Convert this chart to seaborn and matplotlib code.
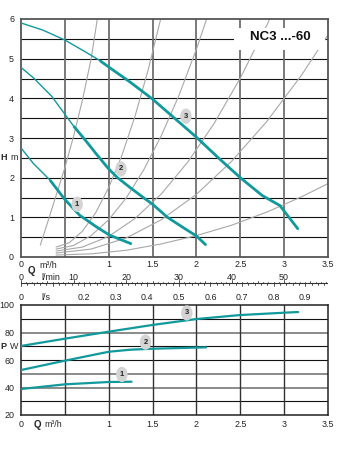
import numpy as np
import pandas as pd
import seaborn as sns
import matplotlib.pyplot as plt

sns.set_style("white")
plt.rcParams['font.family'] = ['Liberation Sans', 'DejaVu Sans']

# Pump head H (m) against flow Q (m3/h) for speed settings 1-3
q_h1 = [0, 0.14, 0.33, 0.5, 0.67, 0.86, 1.01, 1.26]
h_1 = [2.75, 2.36, 1.94, 1.45, 1.05, 0.76, 0.55, 0.33]
q_h2 = [0, 0.15, 0.35, 0.5, 0.6, 0.75, 0.85, 1.0, 1.1, 1.25, 1.4, 1.5, 1.67, 1.85, 2.0, 2.11]
h_2 = [4.78, 4.5, 4.05, 3.6, 3.3, 2.9, 2.62, 2.22, 2.0, 1.74, 1.49, 1.33, 1.0, 0.74, 0.53, 0.3]
q_h3 = [0, 0.25, 0.5, 0.75, 0.9, 1.0, 1.25, 1.5, 1.75, 2.0, 2.25, 2.5, 2.75, 2.95, 3.16]
h_3 = [5.9, 5.72, 5.47, 5.15, 4.95, 4.79, 4.4, 3.98, 3.5, 3.02, 2.5, 2.0, 1.55, 1.3, 0.7]

# Power input P (W) against flow Q (m3/h)
q_p1 = [0, 0.5, 1.0, 1.26]
p_1 = [38.9, 42.3, 44.0, 44.2]
q_p2 = [0, 0.5, 1.0, 1.25, 1.5, 2.11]
p_2 = [52.7, 59.5, 66.0, 67.5, 68.2, 69.2]
q_p3 = [0, 0.5, 1.0, 1.5, 2.0, 2.5, 3.0, 3.16]
p_3 = [70.2, 75.5, 80.6, 85.5, 89.8, 92.7, 94.4, 94.9]

# System resistance curves (grey background lines)
sys_q = [
    [0.22, 0.3, 0.4, 0.5, 0.6, 0.7, 0.8, 0.87],
    [0.4, 0.55, 0.7, 0.85, 1.0, 1.15, 1.3, 1.45, 1.62],
    [0.4, 0.6, 0.8, 1.0, 1.2, 1.4, 1.6, 1.8, 2.0, 2.15],
    [0.4, 0.7, 1.0, 1.3, 1.6, 1.9, 2.2, 2.5, 2.8, 2.9],
    [0.4, 0.8, 1.2, 1.6, 2.0, 2.4, 2.8, 3.2, 3.5],
    [0.4, 0.8, 1.2, 1.6, 2.0, 2.4, 2.8, 3.2, 3.5],
]
sys_h = [
    [0.3, 0.85, 1.55, 2.25, 3.05, 3.95, 5.0, 6.0],
    [0.25, 0.36, 0.65, 1.11, 1.75, 2.56, 3.55, 4.72, 6.25],
    [0.2, 0.29, 0.54, 0.94, 1.49, 2.2, 3.06, 4.07, 5.24, 6.22],
    [0.15, 0.25, 0.52, 0.97, 1.59, 2.39, 3.36, 4.51, 5.83, 6.31],
    [0.1, 0.2, 0.48, 0.94, 1.58, 2.41, 3.41, 4.59, 5.6],
    [0.05, 0.08, 0.17, 0.33, 0.54, 0.8, 1.13, 1.52, 1.85],
]

x_labels = ['0', '', '1', '1.5', '2', '2.5', '3', '3.5']
h_ticks = [0, 1, 2, 3, 4, 5, 6]
p_ticks = [20, 40, 60, 80, 100]
lmin_labels = [10, 20, 30, 40, 50]
ls_labels = [0.2, 0.3, 0.4, 0.5, 0.6, 0.7, 0.8, 0.9]
title = "NC3 ...-60"

TEAL = '#12999c'
FS = 6.4
W, Hpx = 342, 450

fig = plt.figure(figsize=(W / 100, Hpx / 100), dpi=100)


def fbox(x0, y0, x1, y1):
    """Pixel box (top-left origin) to figure fraction rect."""
    return [x0 / W, 1 - y1 / Hpx, (x1 - x0) / W, (y1 - y0) / Hpx]


ax1 = fig.add_axes(fbox(21, 19, 328, 257))
ax2 = fig.add_axes(fbox(21, 305, 328, 415))
axr = fig.add_axes(fbox(21, 259, 328, 303))

XMAX = 3.5
xt = np.arange(0, XMAX + 0.01, 0.5)


def style_frame(ax, color, lw):
    for s in ax.spines.values():
        s.set_visible(True)
        s.set_color(color)
        s.set_linewidth(lw)


# ---------- head chart ----------
ax1.set_xlim(0, XMAX)
ax1.set_ylim(0, 6)
for v in np.arange(0.5, 6, 0.5):
    ax1.axhline(v, color='#111111', lw=0.8, zorder=1)
for v in xt[1:-1]:
    ax1.axvline(v, color='#6e6e6e', lw=1.3, zorder=1)

for qs, hs in zip(sys_q, sys_h):
    sns.lineplot(x=qs, y=hs, ax=ax1, color='#a8a8a8', lw=0.8,
                 sort=False, estimator=None, zorder=2)


def head_curve(q, h, thick_from):
    df = pd.DataFrame({'Q': q, 'H': h})
    sns.lineplot(data=df, x='Q', y='H', ax=ax1, color=TEAL, lw=1.0,
                 sort=False, estimator=None, zorder=4)
    sns.lineplot(data=df[df.Q >= thick_from], x='Q', y='H', ax=ax1,
                 color=TEAL, lw=2.0, sort=False, estimator=None, zorder=4,
                 solid_capstyle='butt')


head_curve(q_h1, h_1, 0.33)
head_curve(q_h2, h_2, 0.6)
head_curve(q_h3, h_3, 0.9)

badge = dict(boxstyle='ellipse,pad=0.25', fc='#d4d4d4', ec='none')
for txt, (qx, hy) in zip(['1', '2', '3'], [(0.64, 1.33), (1.14, 2.22), (1.88, 3.55)]):
    ax1.text(qx, hy, txt, fontsize=5.5, fontweight='bold', color='#222222',
             ha='center', va='center', bbox=badge, zorder=6)

# title plate
ax1.add_patch(plt.Rectangle((2.43, 5.21), 1.04, 0.56, fc='white', ec='none', zorder=3))
ax1.text(2.96, 5.55, title, fontsize=9.5, fontweight='bold', ha='center',
         va='center', color='#111111', zorder=5)

ax1.set_xticks(xt)
ax1.set_xticklabels(x_labels)
ax1.set_yticks(h_ticks)
ax1.set_yticklabels([str(t) for t in h_ticks])
ax1.tick_params(length=0, labelsize=FS, colors='#222222', pad=2.5)
ax1.tick_params(axis='y', pad=5)
ax1.set_xlabel('')
ax1.set_ylabel('')
style_frame(ax1, '#555555', 1.3)

ax1.text(-0.232, 2.52, 'H', fontsize=6.5, fontweight='bold', ha='left', va='center',
         clip_on=False)
ax1.text(-0.125, 2.52, 'm', fontsize=FS, ha='left', va='center', clip_on=False)

# ---------- flow unit scales ----------
axr.set_xlim(0, XMAX)
axr.set_ylim(303, 259)
axr.axis('off')
axr.patch.set_alpha(0)

RULER_Y = 283.3
axr.plot([0, XMAX], [RULER_Y, RULER_Y], color='#333333', lw=0.8)
lmin_all = np.arange(0, XMAX * 1000 / 60 + 0.01, 1)
for v in lmin_all:
    q = v * 60 / 1000
    up = 3.2 if v % 10 == 0 else (2.2 if v % 5 == 0 else 1.4)
    axr.plot([q, q], [RULER_Y, RULER_Y - up], color='#333333', lw=0.6)
ls_all = np.arange(0, XMAX / 3.6 + 1e-6, 0.02)
for v in ls_all:
    q = v * 3.6
    dn = 3.0 if abs(v * 10 - round(v * 10)) < 1e-6 else 1.6
    axr.plot([q, q], [RULER_Y, RULER_Y + dn], color='#333333', lw=0.6)

lab = dict(fontsize=FS, color='#222222', va='center')
axr.text(0.12, 270.7, 'Q', fontsize=7, fontweight='bold', ha='center', va='center')
axr.text(0.215, 265.5, 'm³/h', ha='left', **lab)
axr.text(0.0, 278, '0', ha='center', **lab)
axr.text(0.228, 278, 'l/min', ha='left', **lab)
for v in lmin_labels:
    axr.text(v * 60 / 1000, 277.5, str(v), ha='center', **lab)
axr.text(0.0, 297, '0', ha='center', **lab)
axr.text(0.228, 297, 'l/s', ha='left', **lab)
for v in ls_labels:
    axr.text(v * 3.6, 297, f'{v:g}', ha='center', **lab)

# ---------- power chart ----------
ax2.set_xlim(0, XMAX)
ax2.set_ylim(20, 100)
for v in range(30, 100, 10):
    if v in (80, 50, 40):
        ax2.axhline(v, color='#8a8a8a', lw=1.4, zorder=1)
    else:
        ax2.axhline(v, color='#111111', lw=0.8, zorder=1)
for v in xt[1:-1]:
    ax2.axvline(v, color='#333333', lw=1.0, zorder=1)

for q, p in [(q_p1, p_1), (q_p2, p_2), (q_p3, p_3)]:
    sns.lineplot(x=q, y=p, ax=ax2, color=TEAL, lw=1.6, sort=False,
                 estimator=None, zorder=4)

for txt, (qx, py) in zip(['1', '2', '3'], [(1.15, 49.5), (1.42, 73.0), (1.89, 94.3)]):
    ax2.text(qx, py, txt, fontsize=5.5, fontweight='bold', color='#222222',
             ha='center', va='center', bbox=badge, zorder=6)

ax2.set_xticks(xt)
ax2.set_xticklabels(x_labels)
ax2.set_yticks(p_ticks)
ax2.set_yticklabels([str(t) for t in p_ticks])
ax2.tick_params(length=0, labelsize=FS, colors='#222222', pad=3.5)
ax2.tick_params(axis='y', pad=4.6)
style_frame(ax2, '#222222', 1.1)

ax2.text(0.19, 12.4, 'Q', fontsize=7, fontweight='bold', ha='center', va='center',
         clip_on=False)
ax2.text(0.27, 13.0, 'm³/h', fontsize=FS, ha='left', va='center', clip_on=False)
ax2.text(-0.232, 70, 'P', fontsize=6.5, fontweight='bold', ha='left', va='center',
         clip_on=False)
ax2.text(-0.125, 70, 'W', fontsize=FS, ha='left', va='center', clip_on=False)

fig.savefig('out.png', dpi=100, facecolor='white')
